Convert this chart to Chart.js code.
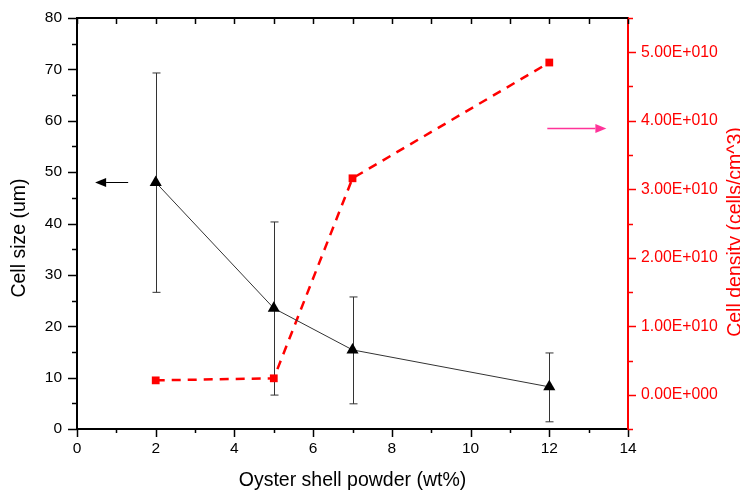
<!DOCTYPE html>
<html>
<head>
<meta charset="utf-8">
<script src="https://cdn.jsdelivr.net/npm/chart.js@4/dist/chart.umd.min.js"></script>
<style>
  html, body { margin: 0; padding: 0; background: #fff; }
  #wrap { width: 740px; height: 490px; }
</style>
</head>
<body>
<div id="wrap"><canvas id="chart" width="740" height="490"></canvas></div>
<script>
// oyster shell loading (wt%)
const loadings = [2, 5, 7, 12];
// cell size (um) with error bar ends
const cellSize = [48.0, 23.5, 15.4, 8.2];
const sizeUpper = [69.3, 40.3, 25.7, 14.8];
const sizeLower = [26.6, 6.6, 4.9, 1.4];
// cell density (cells/cm^3)
const cellDensity = [0.21e10, 0.24e10, 3.16e10, 4.85e10];

const xTicks = [0, 2, 4, 6, 8, 10, 12, 14];
const sizeTicks = [0, 10, 20, 30, 40, 50, 60, 70, 80];
const densityTicks = [0, 1e10, 2e10, 3e10, 4e10, 5e10];

const FONT = "'Liberation Sans', Arial, sans-serif";
const RED = '#ff0000';

function sciLabel(v) {
  if (v === 0) return '0.00E+000';
  const e = Math.floor(Math.log10(Math.abs(v)));
  const m = v / Math.pow(10, e);
  return m.toFixed(2) + 'E+' + String(e).padStart(3, '0');
}

function arrow(ctx, x1, y1, x2, y2, color, width, head) {
  const dir = Math.sign(x2 - x1);
  ctx.save();
  ctx.strokeStyle = color;
  ctx.fillStyle = color;
  ctx.lineWidth = width;
  ctx.beginPath();
  ctx.moveTo(x1, y1);
  ctx.lineTo(x2 - dir * head, y2);
  ctx.stroke();
  ctx.beginPath();
  ctx.moveTo(x2, y2);
  ctx.lineTo(x2 - dir * head, y2 - head * 0.4);
  ctx.lineTo(x2 - dir * head, y2 + head * 0.4);
  ctx.closePath();
  ctx.fill();
  ctx.restore();
}

// error bars go underneath the markers
const errorBars = {
  id: 'errorBars',
  beforeDatasetsDraw(chart) {
    const { ctx, scales: { x, y } } = chart;
    ctx.save();
    ctx.strokeStyle = '#333';
    ctx.lineWidth = 1;
    loadings.forEach((v, i) => {
      const px = Math.round(x.getPixelForValue(v)) + 0.5;
      const top = y.getPixelForValue(sizeUpper[i]);
      const bot = y.getPixelForValue(sizeLower[i]);
      ctx.beginPath();
      ctx.moveTo(px, top);
      ctx.lineTo(px, bot);
      ctx.moveTo(px - 4, top);
      ctx.lineTo(px + 4, top);
      ctx.moveTo(px - 4, bot);
      ctx.lineTo(px + 4, bot);
      ctx.stroke();
    });
    ctx.restore();
  }
};

// frame, minor ticks, titles and pointer arrows
const frame = {
  id: 'frame',
  afterDraw(chart) {
    const { ctx, chartArea: a, scales: { x, y, y1 } } = chart;
    ctx.save();
    ctx.lineWidth = 1.5;

    // left axis ticks
    ctx.strokeStyle = '#000';
    for (let v = 0; v <= 80; v += 5) {
      const py = Math.round(y.getPixelForValue(v)) + 0.5;
      const len = v % 10 === 0 ? 9 : 5;
      ctx.beginPath();
      ctx.moveTo(a.left, py);
      ctx.lineTo(a.left - len, py);
      ctx.stroke();
    }
    // bottom ticks outward, top ticks inward
    for (let v = 0; v <= 14; v += 1) {
      const px = Math.round(x.getPixelForValue(v)) + 0.5;
      const len = v % 2 === 0 ? 8 : 4;
      ctx.beginPath();
      ctx.moveTo(px, a.bottom);
      ctx.lineTo(px, a.bottom + len);
      ctx.moveTo(px, a.top);
      ctx.lineTo(px, a.top + 6);
      ctx.stroke();
    }
    // top border
    ctx.lineWidth = 2;
    ctx.beginPath();
    ctx.moveTo(a.left, a.top);
    ctx.lineTo(a.right, a.top);
    ctx.stroke();

    // right axis ticks
    ctx.strokeStyle = RED;
    ctx.lineWidth = 1.5;
    for (let k = -1; k <= 11; k++) {
      const v = k * 0.5e10;
      const py = Math.round(y1.getPixelForValue(v)) + 0.5;
      const len = k % 2 === 0 ? 8 : 5;
      ctx.beginPath();
      ctx.moveTo(a.right, py);
      ctx.lineTo(a.right + len, py);
      ctx.stroke();
    }

    // axis titles
    ctx.textAlign = 'center';
    ctx.textBaseline = 'middle';
    ctx.font = '19.5px ' + FONT;
    ctx.fillStyle = '#000';
    ctx.fillText('Oyster shell powder (wt%)', (a.left + a.right) / 2, 481);

    ctx.save();
    ctx.translate(20, 238);
    ctx.rotate(-Math.PI / 2);
    ctx.fillText('Cell size (um)', 0, 0);
    ctx.restore();

    ctx.save();
    ctx.fillStyle = RED;
    ctx.translate(736, 232);
    ctx.rotate(-Math.PI / 2);
    ctx.fillText('Cell density (cells/cm^3)', 0, 0);
    ctx.restore();

    // pointer arrows to each axis
    const ya = Math.round(y.getPixelForValue(cellSize[0])) + 0.5;
    arrow(ctx, x.getPixelForValue(1.3), ya, x.getPixelForValue(0.46), ya, '#000', 1, 11);
    const yb = Math.round(y1.getPixelForValue(3.9e10)) + 0.5;
    arrow(ctx, x.getPixelForValue(11.95), yb, x.getPixelForValue(13.45), yb, '#ff3399', 1.5, 11);

    ctx.restore();
  }
};

new Chart(document.getElementById('chart'), {
  type: 'line',
  data: {
    datasets: [
      {
        label: 'Cell size',
        data: loadings.map((v, i) => ({ x: v, y: cellSize[i] })),
        yAxisID: 'y',
        borderColor: '#333',
        borderWidth: 1,
        pointStyle: 'triangle',
        pointRadius: 7,
        pointBackgroundColor: '#000',
        pointBorderColor: '#000',
        pointBorderWidth: 0,
        tension: 0
      },
      {
        label: 'Cell density',
        data: loadings.map((v, i) => ({ x: v, y: cellDensity[i] })),
        yAxisID: 'y1',
        borderColor: RED,
        borderWidth: 2.5,
        borderDash: [9, 7],
        pointStyle: 'rect',
        pointRadius: 5.5,
        pointBackgroundColor: RED,
        pointBorderColor: RED,
        pointBorderWidth: 0,
        tension: 0
      }
    ]
  },
  options: {
    responsive: false,
    animation: false,
    layout: { padding: { top: 18, left: 0, right: 0, bottom: 0 } },
    plugins: {
      legend: { display: false },
      tooltip: { enabled: false }
    },
    scales: {
      x: {
        type: 'linear',
        min: 0,
        max: 14,
        afterBuildTicks: (s) => { s.ticks = xTicks.map((v) => ({ value: v })); },
        afterFit: (s) => { s.height = 61; },
        grid: { display: false },
        border: { display: true, color: '#000', width: 2 },
        ticks: { color: '#000', font: { family: FONT, size: 15.5 }, padding: 2, maxRotation: 0 }
      },
      y: {
        position: 'left',
        min: 0,
        max: 80,
        afterBuildTicks: (s) => { s.ticks = sizeTicks.map((v) => ({ value: v })); },
        afterFit: (s) => { s.width = 77; },
        grid: { display: false },
        border: { display: true, color: '#000', width: 2 },
        ticks: { color: '#000', font: { family: FONT, size: 15.5 }, padding: 7 }
      },
      y1: {
        position: 'right',
        min: -0.5e10,
        max: 5.5e10,
        afterBuildTicks: (s) => { s.ticks = densityTicks.map((v) => ({ value: v })); },
        afterFit: (s) => { s.width = 112; },
        grid: { display: false },
        border: { display: true, color: RED, width: 2 },
        ticks: { color: RED, font: { family: FONT, size: 15.8 }, padding: 5, callback: (v) => sciLabel(v) }
      }
    }
  },
  plugins: [errorBars, frame]
});
</script>
</body>
</html>
